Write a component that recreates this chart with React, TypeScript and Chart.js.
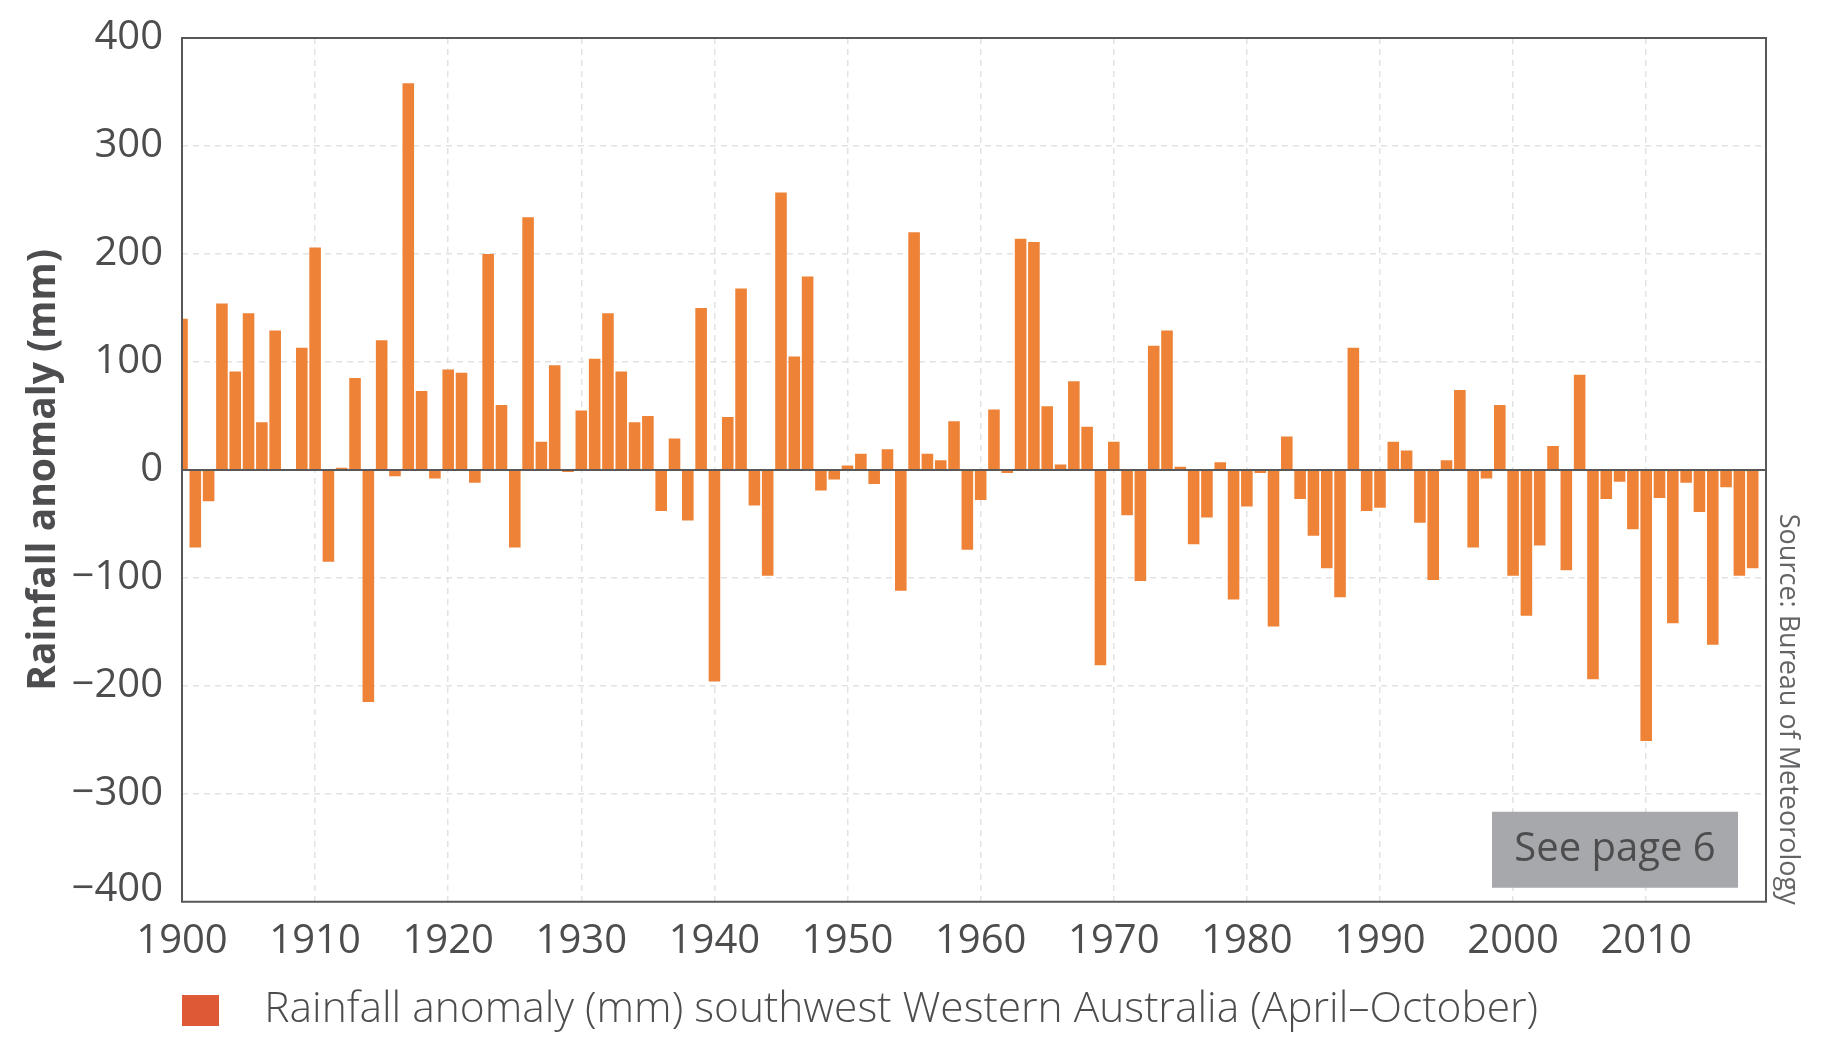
import { useEffect, useRef } from "react";
import { Chart, registerables } from "chart.js";

Chart.register(...registerables);

// Rainfall anomaly (mm), southwest Western Australia, April–October, 1900–2018
const firstYear = 1900;
const axisMaxYear = 2019;
const anomalies = [
  140, -72, -29, 154, 91, 145, 44, 129, 0, 113, // 1900s
  206, -85, 2, 85, -215, 120, -6, 358, 73, -8, // 1910s
  93, 90, -12, 200, 60, -72, 234, 26, 97, -2, // 1920s
  55, 103, 145, 91, 44, 50, -38, 29, -47, 150, // 1930s
  -196, 49, 168, -33, -98, 257, 105, 179, -19, -9, // 1940s
  4, 15, -13, 19, -112, 220, 15, 9, 45, -74, // 1950s
  -28, 56, -3, 214, 211, 59, 5, 82, 40, -181, // 1960s
  26, -42, -103, 115, 129, 3, -69, -44, 7, -120, // 1970s
  -34, -3, -145, 31, -27, -61, -91, -118, 113, -38, // 1980s
  -35, 26, 18, -49, -102, 9, 74, -72, -8, 60, // 1990s
  -98, -135, -70, 22, -93, 88, -194, -27, -11, -55, // 2000s
  -251, -26, -142, -12, -39, -162, -16, -98, -91, // 2010s
];
const years = anomalies.map((_, i) => firstYear + i);

const yMin = -400;
const yMax = 400;
const yStep = 100;
const xStep = 10;

const yTitle = "Rainfall anomaly (mm)";
const legendLabel = "Rainfall anomaly (mm) southwest Western Australia (April\u2013October)";
const sourceNote = "Source: Bureau of Meteorology";
const pageNote = "See page 6";

const textColor = "#4d4d4f";
const barColor = "#ee8236";
const swatchColor = "#de5a36";
const frameColor = "#58585a";
const gridColor = "#e2e2e2";
const noteBoxColor = "#a7a8ab";
const fontFamily = "'Open Sans', 'Noto Sans', sans-serif";

// frame, zero line, "See page 6" box and the rotated source note
const overlayPlugin = {
  id: "overlay",
  afterDatasetsDraw(chart: any) {
    const { ctx, chartArea: a, scales } = chart;
    const y0 = scales.y.getPixelForValue(0);
    ctx.save();
    ctx.strokeStyle = frameColor;
    ctx.lineWidth = 2;
    ctx.beginPath();
    ctx.moveTo(a.left, y0);
    ctx.lineTo(a.right, y0);
    ctx.stroke();
    ctx.strokeRect(a.left, a.top, a.right - a.left, a.bottom - a.top);

    const bw = 246;
    const bh = 76;
    const bx = a.right - 28 - bw;
    const by = a.bottom - 14 - bh;
    ctx.fillStyle = noteBoxColor;
    ctx.fillRect(bx, by, bw, bh);
    ctx.fillStyle = textColor;
    ctx.font = `40px ${fontFamily}`;
    ctx.textAlign = "center";
    ctx.textBaseline = "middle";
    ctx.fillText(pageNote, bx + bw / 2, by + bh / 2);

    ctx.translate(a.right + 22, a.bottom + 3);
    ctx.rotate(Math.PI / 2);
    ctx.font = `27px ${fontFamily}`;
    ctx.fillStyle = "#636466";
    ctx.textAlign = "right";
    ctx.textBaseline = "middle";
    ctx.fillText(sourceNote, 0, 0);
    ctx.restore();
  },
};

function makeSwatch() {
  const c = document.createElement("canvas");
  c.width = 61;
  c.height = 31;
  const g = c.getContext("2d");
  if (g) {
    g.fillStyle = swatchColor;
    g.fillRect(0, 0, 37, 31);
  }
  return c;
}

export default function App() {
  const chartRef = useRef<HTMLCanvasElement>(null);
  const chartInstance = useRef<Chart | null>(null);

  useEffect(() => {
    if (!chartRef.current) return;
    if (chartInstance.current) chartInstance.current.destroy();
    const ctx = chartRef.current.getContext("2d");
    if (!ctx) return;

    const swatch = makeSwatch();

    chartInstance.current = new Chart(ctx, {
      type: "bar",
      data: {
        datasets: [
          {
            label: legendLabel,
            data: years.map((yr, i) => ({ x: yr, y: anomalies[i] })),
            backgroundColor: barColor,
            borderWidth: 0,
            categoryPercentage: 1,
            barPercentage: 0.87,
          },
        ],
      },
      options: {
        responsive: true,
        maintainAspectRatio: false,
        animation: false,
        layout: { padding: { left: 0, top: 38, right: 64, bottom: 13.75 } },
        plugins: {
          tooltip: { enabled: false },
          legend: {
            position: "bottom",
            align: "start",
            fullSize: false,
            labels: {
              usePointStyle: true,
              pointStyleWidth: 61,
              padding: 0,
              color: textColor,
              font: { family: fontFamily, size: 42.5, weight: "300" },
              generateLabels: () => [
                {
                  text: legendLabel,
                  pointStyle: swatch,
                  fillStyle: swatchColor,
                  strokeStyle: swatchColor,
                  lineWidth: 0,
                  hidden: false,
                  datasetIndex: 0,
                  fontColor: textColor,
                },
              ],
            },
          },
        },
        scales: {
          x: {
            type: "linear",
            min: firstYear,
            max: axisMaxYear,
            offset: false,
            afterBuildTicks: (s: any) => {
              s.ticks = s.ticks.filter((t: any) => Math.round(t.value) % xStep === 0);
            },
            afterFit: (s: any) => {
              s.height = 87;
              s.paddingLeft = 0;
              s.paddingRight = 0;
            },
            ticks: {
              stepSize: xStep,
              includeBounds: false,
              autoSkip: false,
              maxRotation: 0,
              padding: 16,
              color: textColor,
              font: { family: fontFamily, size: 40 },
              callback: (v: any) => String(Math.round(Number(v))),
            },
            grid: { color: gridColor, lineWidth: 1.5, drawTicks: false, offset: false },
            border: { display: false, dash: [6, 5] },
          },
          y: {
            min: yMin,
            max: yMax,
            afterFit: (s: any) => {
              s.width = 182;
              s.paddingTop = 0;
              s.paddingBottom = 0;
            },
            ticks: {
              stepSize: yStep,
              padding: 19,
              color: textColor,
              // the bottom label sits a little above its line, clear of the year labels
              font: (c: any) =>
                c.tick && c.tick.value === yMin
                  ? { family: fontFamily, size: 40, lineHeight: 0.6 }
                  : { family: fontFamily, size: 40 },
              callback: (v: any) => {
                const n = Number(v);
                const txt = n < 0 ? "\u2212" + Math.abs(n) : String(n);
                return n === yMin ? [txt, ""] : txt;
              },
            },
            grid: { color: gridColor, lineWidth: 1.5, drawTicks: false },
            border: { display: false, dash: [6, 5] },
            title: {
              display: true,
              text: yTitle,
              color: textColor,
              font: { family: fontFamily, size: 39, weight: "bold" },
              padding: { top: 20, bottom: 0 },
            },
          },
        },
      },
      plugins: [overlayPlugin],
    });

    return () => {
      if (chartInstance.current) {
        chartInstance.current.destroy();
        chartInstance.current = null;
      }
    };
  }, []);

  return (
    <div style={{ position: "absolute", left: 0, top: 0, width: 1830, height: 1055, background: "#fff" }}>
      <canvas ref={chartRef}></canvas>
    </div>
  );
}
